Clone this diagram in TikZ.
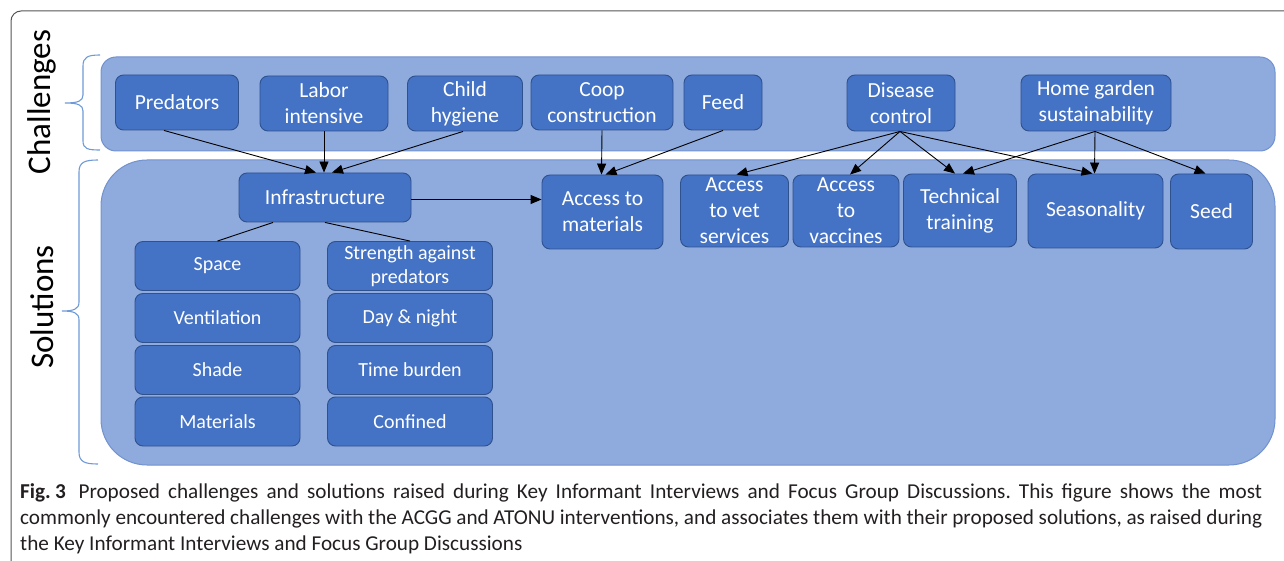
\documentclass[tikz,border=0pt]{standalone}
\usepackage{fontspec}
\setmainfont{Carlito}
\usetikzlibrary{arrows.meta}
\frenchspacing
\definecolor{boxfill}{HTML}{4472C4}
\definecolor{boxline}{HTML}{2F528F}
\definecolor{panelfill}{HTML}{8FAADC}
\definecolor{panelline}{HTML}{7292CF}
\definecolor{bracecol}{HTML}{6F9AD8}
\definecolor{framecol}{HTML}{555555}
\definecolor{captext}{HTML}{231F20}
\tikzset{
  cbox/.style={draw=boxline, fill=boxfill, rounded corners=8pt, line width=0.9pt,
    text=white, font=\fontsize{21.5}{26}\selectfont, align=center, inner sep=0pt},
  sbox/.style={cbox, font=\fontsize{20}{24}\selectfont, minimum width=165pt, minimum height=49pt},
  arr/.style={-{Triangle[length=11pt,width=9pt]}, line width=0.9pt, black},
  link/.style={line width=0.9pt, black},
  panel/.style={draw=panelline, fill=panelfill, line width=1pt},
  bracestyle/.style={draw=bracecol, line width=1.1pt},
  lbl/.style={rotate=90, font=\fontsize{33}{40}\selectfont, text=black},
  captionline/.style={anchor=base west, font=\fontsize{21.2}{26}\selectfont, text=captext, inner sep=0pt}
}
\begin{document}
\begin{tikzpicture}[x=1pt,y=-1pt]
\useasboundingbox (0,0) rectangle (1284,561);
% outer frame
\draw[framecol, line width=1pt, rounded corners=10pt] (11,561) -- (11,11) -- (1284,11);
% panels
\draw[panel, rounded corners=15pt] (101,57) rectangle (1275,151);
\draw[panel, rounded corners=46pt] (101,160) rectangle (1275,465);
% braces
\draw[bracestyle] (100,55) .. controls (88,55) and (83,57) .. (83,66) -- (83,95)
  .. controls (83,101) and (78,103) .. (65,103) .. controls (78,103) and (83,105) .. (83,111)
  -- (83,141) .. controls (83,149) and (88,150) .. (100,150);
\draw[bracestyle] (98,160) .. controls (85,160) and (79,162) .. (79,172) -- (79,302)
  .. controls (79,309) and (74,311) .. (62,311) .. controls (74,311) and (79,313) .. (79,320)
  -- (79,452) .. controls (79,462) and (85,464) .. (98,464);
% side labels
\node[lbl] (lchal) at (42,102) {Challenges};
\node[lbl] (lsol) at (42,307) {Solutions};
% challenges
\node[cbox, minimum width=123pt, minimum height=55pt] (pred) at (177,102.5) {Predators};
\node[cbox, minimum width=128pt, minimum height=55pt] (labor) at (324,103.5) {Labor\\intensive};
\node[cbox, minimum width=115pt, minimum height=55pt] (child) at (465,103.5) {Child\\hygiene};
\node[cbox, minimum width=142pt, minimum height=55pt] (coop) at (602,102.5) {Coop\\construction};
\node[cbox, minimum width=78pt, minimum height=55pt] (feed) at (723,102.5) {Feed};
\node[cbox, minimum width=108pt, minimum height=56pt] (dis) at (901,103) {Disease\\control};
\node[cbox, minimum width=150pt, minimum height=56pt] (home) at (1096,103) {Home garden\\sustainability};
% solutions
\node[cbox, minimum width=172pt, minimum height=49pt] (infra) at (325,197.5) {Infrastructure};
\node[cbox, minimum width=121pt, minimum height=74pt] (accm) at (602.5,212) {Access to\\materials};
\node[cbox, minimum width=108pt, minimum height=72pt] (vet) at (734.5,211) {Access\\to vet\\services};
\node[cbox, minimum width=106pt, minimum height=72pt] (vacc) at (846,211) {Access\\to\\vaccines};
\node[cbox, minimum width=113pt, minimum height=73pt] (tech) at (960,210.5) {Technical\\training};
\node[cbox, minimum width=135pt, minimum height=74pt] (seas) at (1095.5,211) {Seasonality};
\node[cbox, minimum width=82pt, minimum height=75pt] (seed) at (1211.5,211.5) {Seed};
% infrastructure sub-boxes
\node[sbox] (space) at (217.5,266) {Space};
\node[sbox] (vent) at (217.5,318) {Ventilation};
\node[sbox] (shade) at (217.5,370) {Shade};
\node[sbox] (mat) at (217.5,421.5) {Materials};
\node[sbox] (str) at (410,266) {Strength against\\predators};
\node[sbox] (day) at (410,318) {Day \& night};
\node[sbox] (time) at (410,370) {Time burden};
\node[sbox] (conf) at (410,421.5) {Confined};
% connectors
\draw[link] ([xshift=-52pt]infra.south) -- (space.north);
\draw[link] (infra.south) -- (str.north);
\draw[arr] ([xshift=-13pt]pred.south) -- ([xshift=-9pt]infra.north);
\draw[arr] (labor.south) -- ([xshift=-1pt]infra.north);
\draw[arr] ([xshift=-2pt]child.south) -- ([xshift=7pt]infra.north);
\draw[arr] ([yshift=-2pt]infra.east) -- ([yshift=-2pt]infra.east -| accm.west);
\draw[arr] (coop.south) -- ([xshift=-1pt]accm.north);
\draw[arr] (feed.south) -- ([xshift=3pt]accm.north);
\draw[arr] ([xshift=-1pt]dis.south) -- ([xshift=2pt]vet.north);
\draw[arr] ([xshift=-1pt]dis.south) -- ([xshift=4pt]vacc.north);
\draw[arr] ([xshift=-1pt]dis.south) -- ([xshift=-5pt]tech.north);
\draw[arr] ([xshift=-1pt]dis.south) -- ([xshift=-3pt]seas.north);
\draw[arr] ([xshift=-1pt]home.south) -- ([xshift=3pt]tech.north);
\draw[arr] ([xshift=-1pt]home.south) -- ([xshift=-1pt]seas.north);
\draw[arr] ([xshift=-1pt]home.south) -- ([xshift=-6pt]seed.north);
% caption
\node[captionline] (cap1) at (20,498) {\hbox to 1242pt{\textbf{Fig.\kern0.2em3}\hspace{0.6em}Proposed challenges and solutions raised during Key Informant Interviews and Focus Group Discussions. This figure shows the most}};
\node[captionline] (cap2) at (20,524) {\hbox to 1242pt{commonly encountered challenges with the ACGG and ATONU interventions, and associates them with their proposed solutions, as raised during}};
\node[captionline] (cap3) at (20,550) {the Key Informant Interviews and Focus Group Discussions};
\end{tikzpicture}
\end{document}
